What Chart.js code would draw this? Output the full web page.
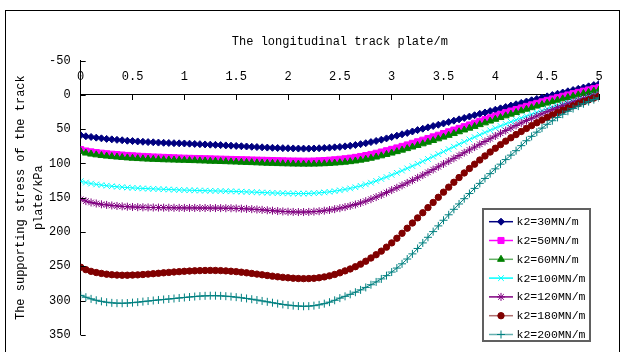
<!DOCTYPE html>
<html>
<head>
<meta charset="utf-8">
<script src="https://cdn.jsdelivr.net/npm/chart.js@4.4.1/dist/chart.umd.min.js"></script>
<style>
  html, body { margin: 0; padding: 0; background: #ffffff; }
  canvas { display: block; }
</style>
</head>
<body>
<canvas id="c" width="624" height="352"></canvas>
<script>
// Positions along the plate (m)
const positions = [
  0, 0.05, 0.1, 0.15, 0.2, 0.25, 0.3, 0.35, 0.4, 0.45,
  0.5, 0.55, 0.6, 0.65, 0.7, 0.75, 0.8, 0.85, 0.9, 0.95,
  1, 1.05, 1.1, 1.15, 1.2, 1.25, 1.3, 1.35, 1.4, 1.45,
  1.5, 1.55, 1.6, 1.65, 1.7, 1.75, 1.8, 1.85, 1.9, 1.95,
  2, 2.05, 2.1, 2.15, 2.2, 2.25, 2.3, 2.35, 2.4, 2.45,
  2.5, 2.55, 2.6, 2.65, 2.7, 2.75, 2.8, 2.85, 2.9, 2.95,
  3, 3.05, 3.1, 3.15, 3.2, 3.25, 3.3, 3.35, 3.4, 3.45,
  3.5, 3.55, 3.6, 3.65, 3.7, 3.75, 3.8, 3.85, 3.9, 3.95,
  4, 4.05, 4.1, 4.15, 4.2, 4.25, 4.3, 4.35, 4.4, 4.45,
  4.5, 4.55, 4.6, 4.65, 4.7, 4.75, 4.8, 4.85, 4.9, 4.95,
  5
];

// Supporting stress (kPa) for each spring stiffness
const k30 = [
  59, 60.5, 61.5, 62.5, 63.5, 64.3, 65, 65.7, 66.3, 67,
  67.5, 68, 68.5, 69, 69.3, 69.7, 70, 70.3, 70.6, 70.8,
  71, 71.3, 71.7, 72, 72.4, 72.7, 73, 73.4, 73.8, 74.2,
  74.6, 75, 75.4, 75.8, 76.2, 76.6, 77, 77.3, 77.6, 77.8,
  78, 78.2, 78.4, 78.5, 78.5, 78.3, 78, 77.6, 77.1, 76.6,
  76, 75.2, 74.3, 73.2, 72, 70.6, 69, 67.3, 65.5, 63.6,
  61.6, 59.6, 57.6, 55.6, 53.5, 51.5, 49.5, 47.5, 45.6, 43.7,
  41.8, 39.8, 37.8, 35.8, 33.8, 31.8, 29.8, 27.8, 25.8, 23.8,
  21.8, 19.8, 17.8, 15.8, 13.8, 11.8, 9.9, 8, 6.1, 4.2,
  2.3, 0.4, -1.5, -3.3, -5.1, -6.9, -8.7, -10.5, -12.3, -14.1,
  -15.9
];
const k50 = [
  80, 82, 83.3, 84.3, 85.2, 86, 86.7, 87.3, 87.9, 88.5,
  89, 89.5, 89.9, 90.3, 90.7, 91, 91.3, 91.6, 91.9, 92.2,
  92.5, 92.7, 92.9, 93.1, 93.3, 93.5, 93.7, 93.9, 94.1, 94.3,
  94.5, 94.7, 94.9, 95.1, 95.3, 95.5, 95.7, 95.9, 96.1, 96.3,
  96.5, 96.6, 96.7, 96.8, 96.8, 96.6, 96.3, 95.9, 95.4, 94.8,
  94.1, 93.3, 92.4, 91.3, 90, 88.6, 87, 85.3, 83.5, 81.6,
  79.6, 77.5, 75.3, 73.1, 70.8, 68.5, 66.2, 63.8, 61.4, 59,
  56.5, 54, 51.5, 49, 46.5, 44, 41.4, 38.8, 36.2, 33.6,
  31, 28.6, 26.2, 23.8, 21.5, 19.2, 16.9, 14.7, 12.5, 10.3,
  8.2, 6.2, 4.2, 2.2, 0.3, -1.6, -3.5, -5.3, -7.1, -8.9,
  -10.7
];
const k60 = [
  82.5, 85, 86.5, 87.6, 88.6, 89.4, 90.1, 90.8, 91.4, 92,
  92.5, 93, 93.4, 93.8, 94.1, 94.4, 94.7, 94.9, 95.1, 95.3,
  95.5, 95.8, 96, 96.3, 96.5, 96.8, 97, 97.3, 97.5, 97.8,
  98, 98.3, 98.6, 98.9, 99.2, 99.5, 99.8, 100, 100.3, 100.5,
  100.7, 100.9, 101, 101.1, 101.1, 101, 100.8, 100.5, 100.1, 99.6,
  99, 98.3, 97.5, 96.5, 95.3, 94, 92.5, 90.8, 89, 87,
  85, 82.9, 80.7, 78.5, 76.2, 73.9, 71.5, 69.1, 66.7, 64.2,
  61.7, 59.1, 56.5, 53.9, 51.3, 48.7, 46.1, 43.5, 40.9, 38.3,
  35.7, 33.2, 30.7, 28.2, 25.8, 23.4, 21.1, 18.8, 16.5, 14.3,
  12.1, 10, 7.9, 5.9, 3.9, 2, 0.1, -1.8, -3.6, -5.4,
  -7.2
];
const k100 = [
  126, 128, 129.5, 130.7, 131.7, 132.6, 133.4, 134.1, 134.7, 135.3,
  135.8, 136.2, 136.6, 136.9, 137.2, 137.5, 137.8, 138.1, 138.4, 138.7,
  139, 139.2, 139.4, 139.6, 139.8, 140, 140.2, 140.4, 140.6, 140.8,
  141, 141.3, 141.6, 141.9, 142.2, 142.5, 142.8, 143.1, 143.4, 143.6,
  143.8, 144, 144.1, 144.1, 143.9, 143.5, 143, 142.3, 141.5, 140.5,
  139.3, 138, 136.5, 134.8, 132.8, 130.6, 128.2, 125.6, 122.8, 119.9,
  116.9, 113.8, 110.6, 107.3, 104, 100.6, 97.1, 93.6, 90.1, 86.5,
  82.9, 79.3, 75.7, 72.1, 68.6, 65.1, 61.7, 58.3, 55, 51.8,
  48.6, 45.5, 42.5, 39.5, 36.6, 33.8, 31.1, 28.4, 25.8, 23.3,
  20.8, 18.4, 16.1, 13.8, 11.6, 9.5, 7.2, 5, 2.8, 0.7,
  -1.4
];
const k120 = [
  152.5, 155, 157, 158.5, 159.7, 160.6, 161.4, 162.1, 162.7, 163.2,
  163.6, 163.9, 164.1, 164.3, 164.4, 164.5, 164.6, 164.7, 164.8, 164.9,
  165, 165, 165, 165.1, 165.1, 165.2, 165.2, 165.3, 165.4, 165.5,
  165.7, 166, 166.4, 166.8, 167.3, 167.8, 168.4, 169, 169.6, 170.1,
  170.5, 170.8, 171, 171, 170.8, 170.4, 169.8, 169, 168, 166.8,
  165.4, 163.8, 162, 160, 157.7, 155.1, 152.2, 149.2, 146, 142.6,
  139, 135.6, 132.1, 128.5, 124.8, 121, 117.1, 113.1, 109.1, 105,
  100.9, 96.8, 92.7, 88.6, 84.5, 80.4, 76.3, 72.2, 68.1, 64.1,
  60.1, 56.1, 52.2, 48.4, 44.7, 41.1, 37.6, 34.2, 30.9, 27.7,
  24.6, 21.6, 18.7, 15.9, 13.2, 10.6, 8.1, 5.7, 3.4, 1.2,
  -0.9
];
const k180 = [
  251.5, 255, 257.5, 259.2, 260.5, 261.6, 262.4, 262.9, 263.1, 263.1,
  262.9, 262.6, 262.1, 261.5, 260.9, 260.3, 259.6, 259, 258.4, 257.9,
  257.4, 257, 256.7, 256.4, 256.2, 256.1, 256.2, 256.4, 256.8, 257.3,
  257.9, 258.7, 259.6, 260.5, 261.5, 262.5, 263.5, 264.5, 265.4, 266.2,
  266.9, 267.5, 267.9, 268.1, 268, 267.6, 266.8, 265.6, 264, 262,
  259.6, 256.8, 254, 250.7, 247, 242.7, 238, 233.2, 228, 222.2,
  216, 209.2, 202, 194.6, 187, 179.5, 172, 164.5, 157, 149.5,
  142, 134.7, 127.6, 120.7, 114, 107.5, 101.2, 95.1, 89.2, 83.5,
  78, 72.7, 67.6, 62.7, 58, 53.5, 49.1, 44.9, 40.8, 36.9,
  33.1, 29.4, 25.9, 22.5, 19.2, 16.1, 13.1, 10.2, 7.4, 4.8,
  2.3
];
const k200 = [
  292.5, 295.2, 297.6, 299.6, 301.2, 302.5, 303.4, 303.9, 304, 303.7,
  303.1, 302.4, 301.6, 300.8, 300, 299.2, 298.5, 297.8, 297.1, 296.3,
  295.6, 294.9, 294.2, 293.6, 293.2, 293, 293, 293.2, 293.7, 294.3,
  295.1, 296, 297, 298.1, 299.3, 300.6, 301.9, 303.2, 304.5, 305.7,
  306.7, 307.5, 308.1, 308.4, 308.2, 307.5, 306.3, 304.6, 302.4, 299.7,
  296.5, 293.9, 291, 287.9, 284.5, 280.9, 277, 272.9, 268.5, 263.7,
  258.5, 252.7, 246.5, 239.5, 232, 224.1, 216, 207.8, 199.5, 191.2,
  183, 175, 167, 159.2, 151.5, 144, 136.5, 129.2, 122, 115,
  108, 101.2, 94.5, 88, 81.5, 74.2, 67, 60.6, 54.5, 48.6,
  43, 37.8, 33, 28.4, 24, 20.1, 16.5, 13.1, 10, 7.1,
  4.5
];

const seriesNames = ['k2=30MN/m', 'k2=50MN/m', 'k2=60MN/m', 'k2=100MN/m', 'k2=120MN/m', 'k2=180MN/m', 'k2=200MN/m'];
const seriesValues = [k30, k50, k60, k100, k120, k180, k200];
const xTicks = [0, 0.5, 1, 1.5, 2, 2.5, 3, 3.5, 4, 4.5, 5];
const yTicks = [-50, 0, 50, 100, 150, 200, 250, 300, 350];

const styles = [
  { color: '#000080', point: 'rectRot',  radius: 3.5, legendLine: '#000080' },
  { color: '#ff00ff', point: 'rect',     radius: 4.3, legendLine: '#ff00ff' },
  { color: '#008000', point: 'triangle', radius: 4,   legendLine: '#66b066' },
  { color: '#00ffff', point: 'crossRot', radius: 4,   legendLine: '#00ffff' },
  { color: '#800080', point: 'star',     radius: 4,   legendLine: '#800080' },
  { color: '#800000', point: 'circle',   radius: 3.2, legendLine: '#b07070' },
  { color: '#008080', point: 'cross',    radius: 4,   legendLine: '#66b0b0' }
];

const MONO = '"Liberation Mono", "DejaVu Sans Mono", monospace';

const datasets = seriesValues.map((vals, i) => ({
  label: seriesNames[i],
  data: positions.map((x, j) => ({ x: x, y: vals[j] })),
  borderColor: styles[i].color,
  backgroundColor: styles[i].color,
  borderWidth: 1,
  pointStyle: styles[i].point,
  pointRadius: styles[i].radius,
  pointBorderWidth: 1,
  pointBorderColor: styles[i].color,
  pointBackgroundColor: styles[i].color,
  tension: 0,
  fill: false,
  order: seriesValues.length - 1 - i
}));

// Frame, axis titles, inward y ticks and the boxed legend
const decorations = {
  id: 'decorations',
  afterDraw(chart) {
    const ctx = chart.ctx;
    const y = chart.scales.y;
    const area = chart.chartArea;
    ctx.save();

    // outer frame
    ctx.strokeStyle = '#000000';
    ctx.lineWidth = 1;
    ctx.strokeRect(5.5, 10.5, 614, 360);

    // y tick marks pointing into the plot
    ctx.beginPath();
    yTicks.forEach(v => {
      const py = Math.round(y.getPixelForValue(v)) + 0.5;
      ctx.moveTo(area.left, py);
      ctx.lineTo(area.left + 5, py);
    });
    ctx.strokeStyle = '#000000';
    ctx.stroke();

    // axis titles
    ctx.fillStyle = '#000000';
    ctx.font = '12px ' + MONO;
    ctx.textAlign = 'center';
    ctx.textBaseline = 'middle';
    ctx.fillText('The longitudinal track plate/m', (area.left + area.right) / 2, 42);

    const cy = (area.top + area.bottom) / 2;
    ctx.save();
    ctx.translate(21, cy);
    ctx.rotate(-Math.PI / 2);
    ctx.fillText('The supporting stress of the track', 0, 0);
    ctx.restore();
    ctx.save();
    ctx.translate(39, cy);
    ctx.rotate(-Math.PI / 2);
    ctx.fillText('plate/kPa', 0, 0);
    ctx.restore();

    // legend box
    const bx = 483, by = 209, bw = 107, bh = 132;
    ctx.fillStyle = '#ffffff';
    ctx.fillRect(bx, by, bw, bh);
    ctx.strokeStyle = '#606060';
    ctx.lineWidth = 2;
    ctx.strokeRect(bx, by, bw, bh);

    ctx.font = '11.5px ' + MONO;
    ctx.textAlign = 'left';
    ctx.textBaseline = 'middle';
    seriesNames.forEach((name, i) => {
      const st = styles[i];
      const ry = 221.7 + i * 18.8;
      ctx.strokeStyle = st.legendLine;
      ctx.lineWidth = 1.5;
      ctx.beginPath();
      ctx.moveTo(489, ry);
      ctx.lineTo(513, ry);
      ctx.stroke();
      ctx.fillStyle = st.color;
      ctx.strokeStyle = st.color;
      ctx.lineWidth = 1;
      Chart.helpers.drawPoint(ctx, { pointStyle: st.point, radius: st.radius, rotation: 0, borderWidth: 1 }, 501, ry);
      ctx.fillStyle = '#000000';
      ctx.fillText(name, 516.5, ry + 0.5);
    });

    ctx.restore();
  }
};

new Chart(document.getElementById('c'), {
  type: 'line',
  data: { datasets: datasets },
  options: {
    responsive: false,
    animation: false,
    events: [],
    layout: { padding: { left: 0, top: 60.5, right: 25, bottom: 15 } },
    plugins: {
      legend: { display: false },
      tooltip: { enabled: false },
      title: { display: false }
    },
    scales: {
      x: {
        type: 'linear',
        position: { y: 0 },
        min: 0,
        max: 5,
        afterBuildTicks(scale) { scale.ticks = xTicks.map(v => ({ value: v })); },
        ticks: {
          color: '#000000',
          font: { family: MONO, size: 12 },
          padding: -30.5,
          maxRotation: 0,
          autoSkip: false,
          callback: v => String(v)
        },
        grid: { drawOnChartArea: false, tickLength: 5, color: '#000000' },
        border: { color: '#000000', width: 1 }
      },
      y: {
        type: 'linear',
        position: 'left',
        reverse: true,
        min: -50,
        max: 350,
        afterBuildTicks(scale) { scale.ticks = yTicks.map(v => ({ value: v })); },
        afterFit(scale) { scale.width = 80.7; },
        ticks: {
          color: '#000000',
          font: { family: MONO, size: 12 },
          padding: 10,
          callback: v => String(v)
        },
        grid: { drawOnChartArea: false, drawTicks: false, color: '#000000' },
        border: { color: '#000000', width: 1 }
      }
    }
  },
  plugins: [decorations]
});
</script>
</body>
</html>
